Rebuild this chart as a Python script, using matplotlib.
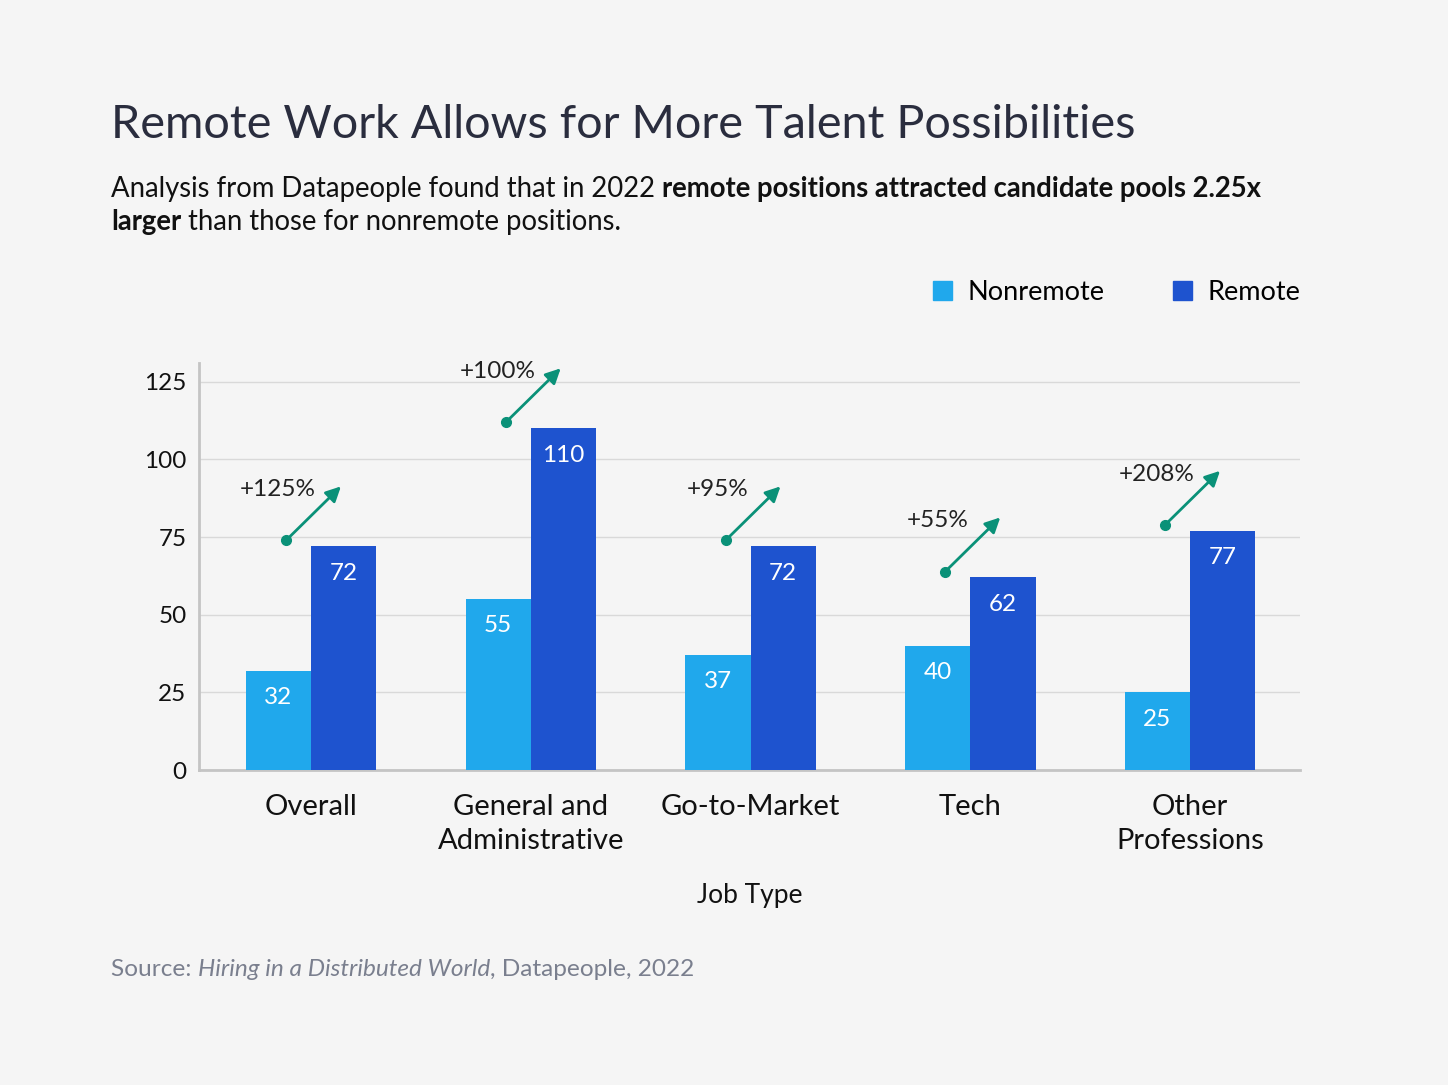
import matplotlib.pyplot as plt
from matplotlib.patches import Patch

# data
categories = ["Overall", "General and\nAdministrative", "Go-to-Market", "Tech", "Other\nProfessions"]
nonremote = [32, 55, 37, 40, 25]
remote = [72, 110, 72, 62, 77]
increase = ["+125%", "+100%", "+95%", "+55%", "+208%"]
y_ticks = [0, 25, 50, 75, 100, 125]

bg = "#F5F5F5"
c_non = "#20A8EC"
c_rem = "#1E53CF"
c_arrow = "#0A9178"
c_title = "#2A2D3E"

plt.rcParams["font.family"] = ["Lato", "DejaVu Sans"]

fig = plt.figure(figsize=(14.48, 10.85), dpi=100, facecolor=bg)
ax = fig.add_axes([0.1374, 0.2903, 0.7604, 0.3751])
ax.set_facecolor(bg)

x = list(range(len(categories)))
w = 0.297
ax.bar([i - w / 2 for i in x], nonremote, w, color=c_non, zorder=3)
ax.bar([i + w / 2 for i in x], remote, w, color=c_rem, zorder=3)

# value labels inside bars
for i in x:
    ax.text(i - w / 2, nonremote[i] - 8.6, str(nonremote[i]), color="white",
            ha="center", va="center", fontsize=17.5, zorder=4)
    ax.text(i + w / 2, remote[i] - 8.6, str(remote[i]), color="white",
            ha="center", va="center", fontsize=17.5, zorder=4)

# increase arrows
for i in x:
    y0 = remote[i] + 1.9
    ax.annotate("", xy=(i + 0.136, y0 + 17.4), xytext=(i - 0.114, y0),
                arrowprops=dict(arrowstyle="-|>,head_length=0.9,head_width=0.45",
                                color=c_arrow, lw=2, shrinkA=0, shrinkB=0),
                zorder=5)
    ax.plot(i - 0.114, y0, "o", color=c_arrow, ms=7, zorder=5)
    ax.text(i - 0.15, y0 + 16.3, increase[i], ha="center", va="center",
            fontsize=17.5, color="#222222", zorder=5)

ax.set_xlim(-0.51, 4.5)
ax.set_ylim(0, 131)
ax.set_yticks(y_ticks)
ax.set_xticks(x)
ax.set_xticklabels(categories, fontsize=21, color="#111111", linespacing=1.4)
ax.tick_params(axis="y", labelsize=17.5, labelcolor="#111111", length=0, pad=9)
ax.tick_params(axis="x", length=0, pad=17)
for lab in ax.get_xticklabels():
    lab.set_verticalalignment("top")
ax.grid(axis="y", color="#D9D9D9", lw=1, zorder=0)
for s in ["top", "right"]:
    ax.spines[s].set_visible(False)
for s in ["left", "bottom"]:
    ax.spines[s].set_color("#C4C4C4")
    ax.spines[s].set_linewidth(2)
ax.set_xlabel("Job Type", fontsize=19, color="#111111", labelpad=21)

# legend
handles = [Patch(color=c_non, label="Nonremote"), Patch(color=c_rem, label="Remote")]
fig.legend(handles=handles, loc="center right", bbox_to_anchor=(1325 / 1448, 1 - 292 / 1085),
           ncol=2, frameon=False, fontsize=19.5, handlelength=0.7, handleheight=0.7,
           handletextpad=0.6, columnspacing=2.5)

# title and subtitle
fig.text(111 / 1448, 1 - 125 / 1085, "Remote Work Allows for More Talent Possibilities",
         fontsize=33.7, color=c_title, va="center", ha="left")

renderer = fig.canvas.get_renderer()


def rich_line(parts, x0, y, size, color):
    # draw text pieces one after another on a line
    xpos = x0
    for txt, weight, style in parts:
        t = fig.text(xpos / 1448, 1 - y / 1085, txt, fontsize=size, color=color,
                     fontweight=weight, fontstyle=style, va="center", ha="left")
        bb = t.get_window_extent(renderer=renderer)
        xpos += bb.width


rich_line([("Analysis from Datapeople found that in 2022 ", "normal", "normal"),
           ("remote positions attracted candidate pools 2.25x", "bold", "normal")],
          111, 189, 19.8, "#111111")
rich_line([("larger", "bold", "normal"),
           (" than those for nonremote positions.", "normal", "normal")],
          111, 222, 19.8, "#111111")

rich_line([("Source: ", "normal", "normal"),
           ("Hiring in a Distributed World", "normal", "italic"),
           (", Datapeople, 2022", "normal", "normal")],
          111, 969, 17.6, "#7A7F8E")

fig.savefig("out.png", dpi=100, facecolor=bg)
